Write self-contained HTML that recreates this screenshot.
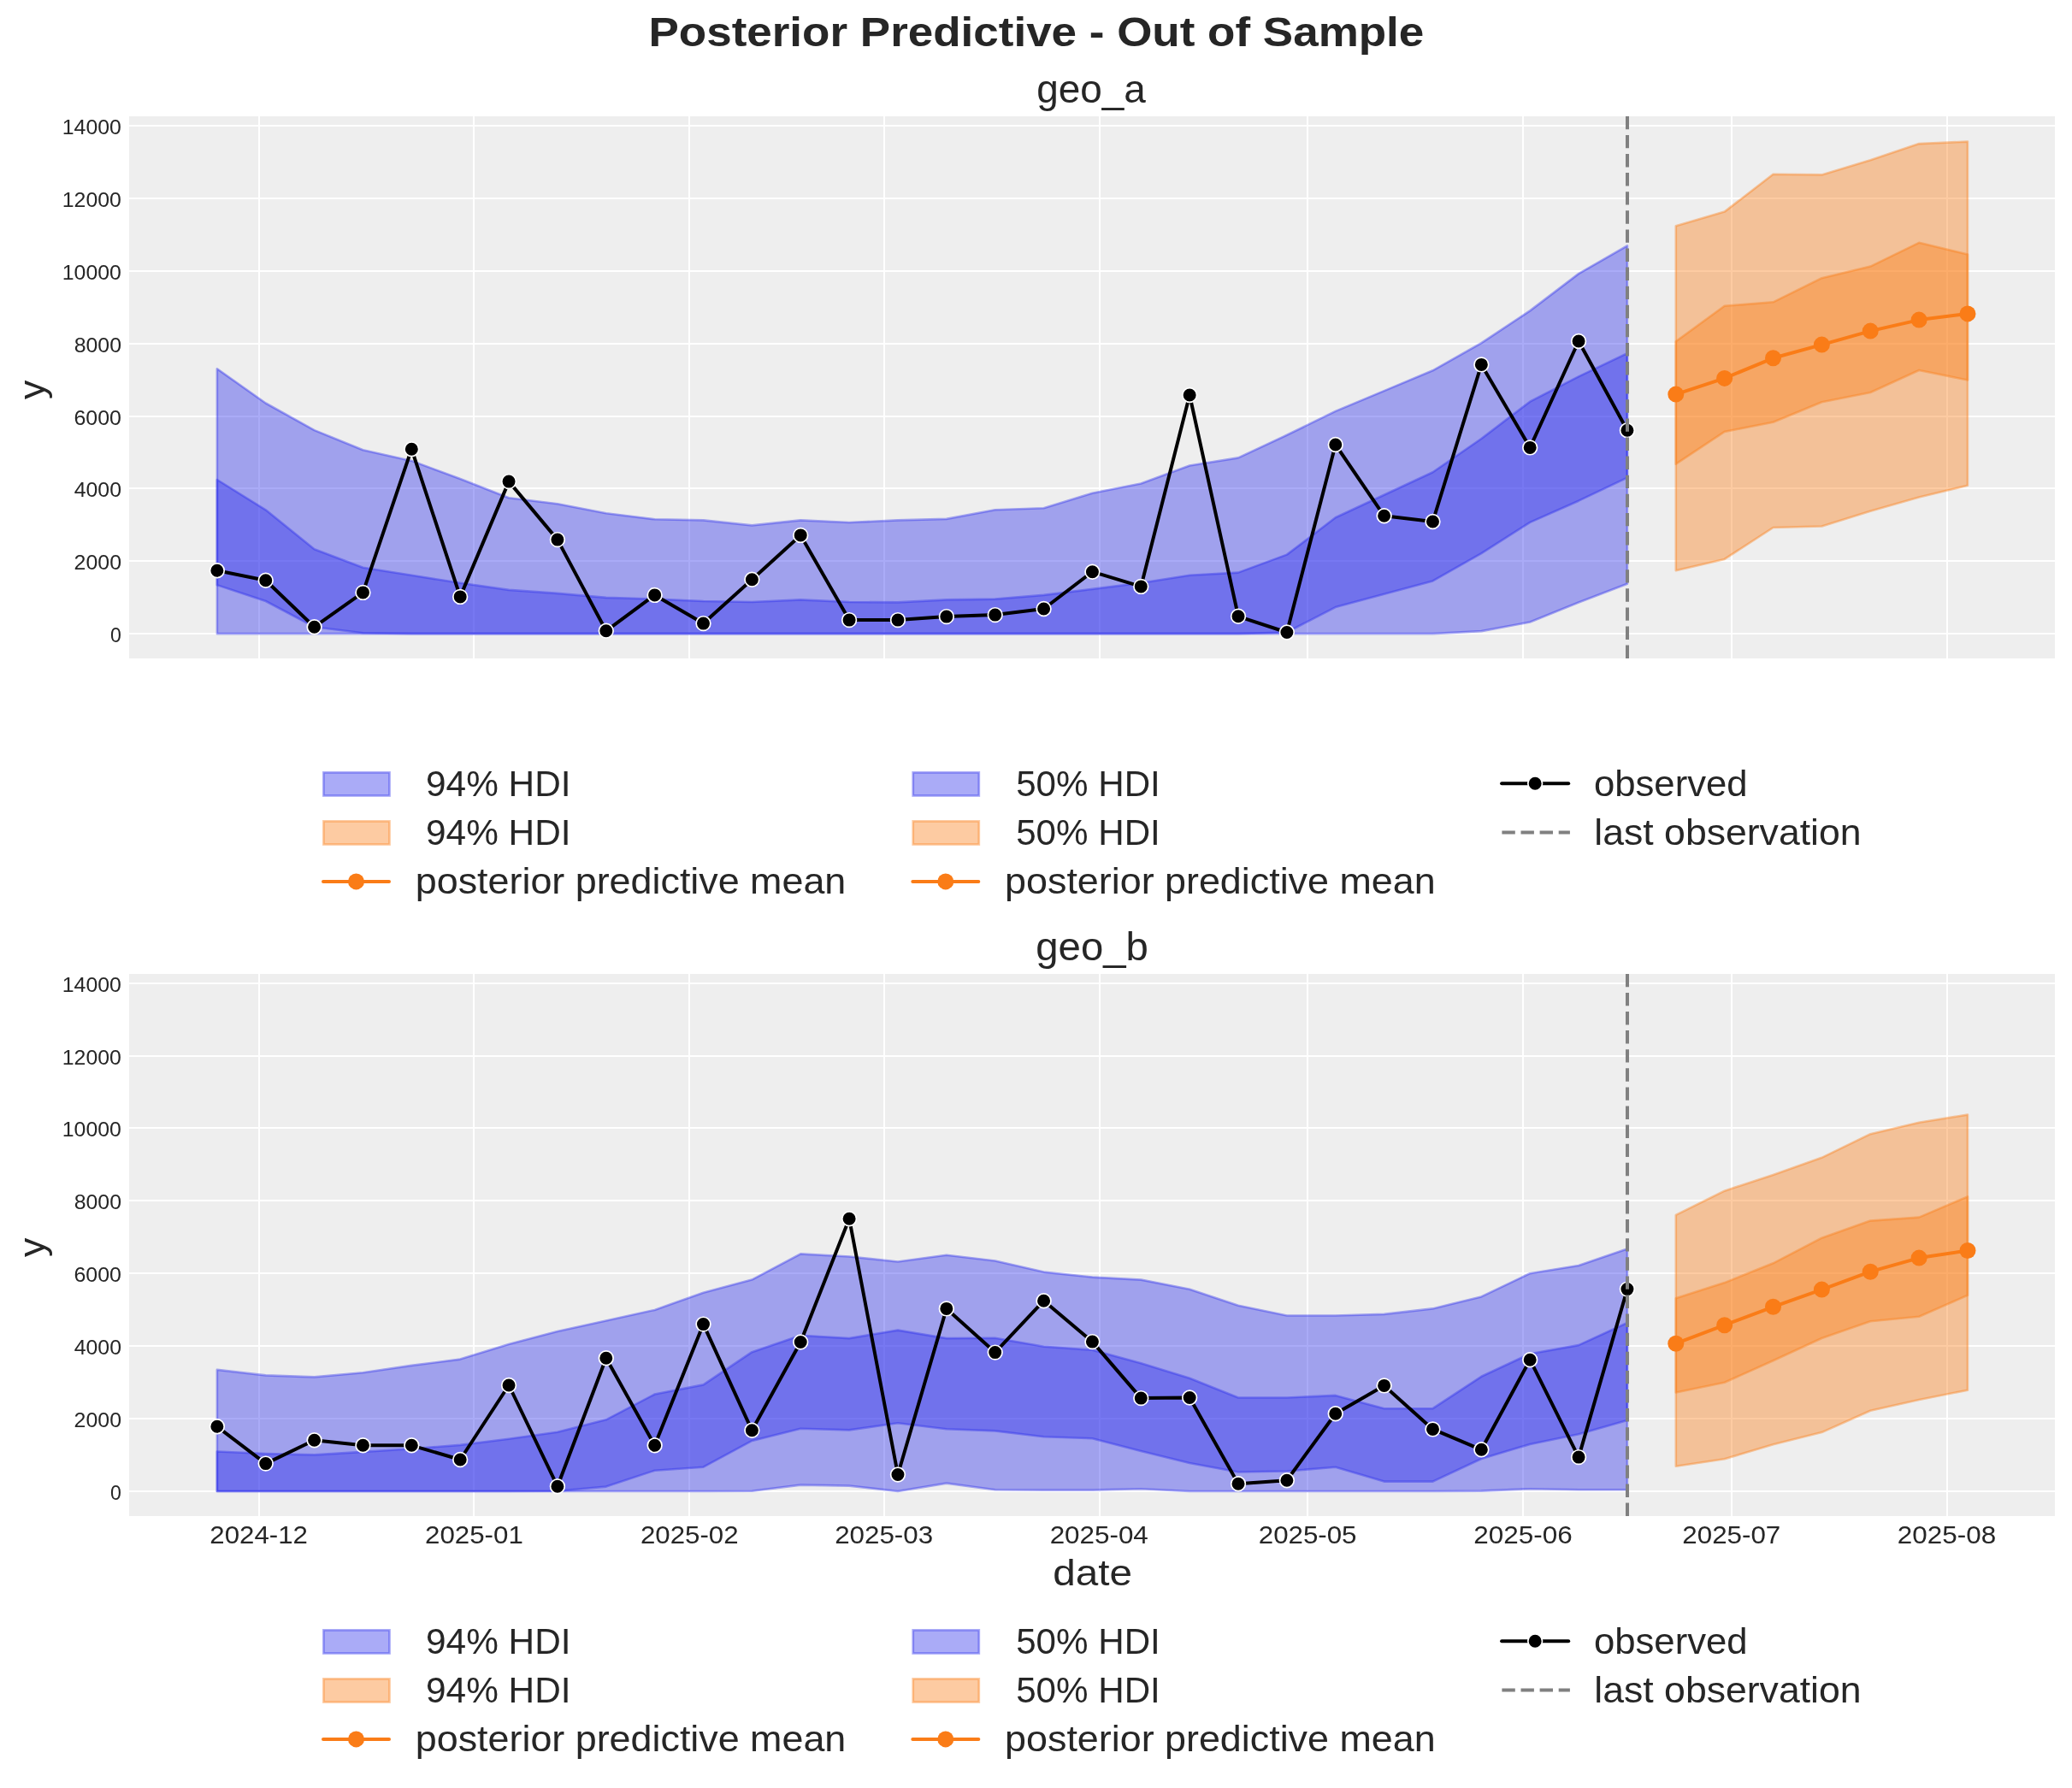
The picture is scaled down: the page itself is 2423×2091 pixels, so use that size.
<!DOCTYPE html>
<html><head><meta charset="utf-8"><style>html,body{margin:0;padding:0;background:#fff;}svg{display:block;font-family:"Liberation Sans",sans-serif;}svg{will-change:transform;}</style></head><body>
<svg width="2423" height="2091" viewBox="0 0 2423 2091" font-family="Liberation Sans, sans-serif">
<rect width="2423" height="2091" fill="#fff"/>
<text x="758.48" y="54.20" font-size="48.1" font-weight="bold" textLength="906.84" lengthAdjust="spacingAndGlyphs" fill="#262626" xml:space="preserve">Posterior Predictive - Out of Sample</text>
<rect x="151.0" y="136.0" width="2252.0" height="634.0" fill="#eeeeee"/>
<rect x="151.0" y="740" width="2252.0" height="2" fill="#fff"/>
<rect x="151.0" y="655" width="2252.0" height="2" fill="#fff"/>
<rect x="151.0" y="570" width="2252.0" height="2" fill="#fff"/>
<rect x="151.0" y="486" width="2252.0" height="2" fill="#fff"/>
<rect x="151.0" y="401" width="2252.0" height="2" fill="#fff"/>
<rect x="151.0" y="316" width="2252.0" height="2" fill="#fff"/>
<rect x="151.0" y="231" width="2252.0" height="2" fill="#fff"/>
<rect x="151.0" y="146" width="2252.0" height="2" fill="#fff"/>
<rect x="302" y="136.0" width="2" height="634.0" fill="#fff"/>
<rect x="553" y="136.0" width="2" height="634.0" fill="#fff"/>
<rect x="805" y="136.0" width="2" height="634.0" fill="#fff"/>
<rect x="1033" y="136.0" width="2" height="634.0" fill="#fff"/>
<rect x="1285" y="136.0" width="2" height="634.0" fill="#fff"/>
<rect x="1528" y="136.0" width="2" height="634.0" fill="#fff"/>
<rect x="1780" y="136.0" width="2" height="634.0" fill="#fff"/>
<rect x="2024" y="136.0" width="2" height="634.0" fill="#fff"/>
<rect x="2276" y="136.0" width="2" height="634.0" fill="#fff"/>
<polygon points="253.86,431.20 310.72,471.50 367.59,503.10 424.45,526.20 481.32,538.90 538.18,560.00 595.05,582.20 651.91,589.20 708.78,600.30 765.64,607.30 822.50,608.40 879.37,614.40 936.23,608.40 993.10,611.00 1049.96,608.40 1106.83,606.90 1163.69,596.30 1220.56,594.30 1277.42,576.70 1334.28,565.50 1391.15,544.50 1448.01,535.40 1504.88,508.80 1561.74,480.90 1618.61,457.10 1675.47,433.30 1732.34,401.20 1789.20,363.40 1846.07,320.10 1902.93,287.40 1902.93,682.70 1846.07,704.50 1789.20,727.50 1732.34,738.10 1675.47,741.10 1618.61,741.10 1561.74,741.10 1504.88,741.10 1448.01,741.10 1391.15,741.10 1334.28,741.10 1277.42,741.10 1220.56,741.10 1163.69,741.10 1106.83,741.10 1049.96,741.10 993.10,741.10 936.23,741.10 879.37,741.10 822.50,741.10 765.64,741.10 708.78,741.10 651.91,741.10 595.05,741.10 538.18,741.10 481.32,741.10 424.45,741.10 367.59,741.10 310.72,741.10 253.86,741.10" fill="#2a2eec" fill-opacity="0.4" stroke="#2a2eec" stroke-opacity="0.4" stroke-width="2.6" stroke-linejoin="round"/>
<polygon points="253.86,561.00 310.72,596.30 367.59,642.20 424.45,663.70 481.32,672.80 538.18,681.80 595.05,689.90 651.91,693.90 708.78,698.90 765.64,700.60 822.50,703.00 879.37,704.00 936.23,701.40 993.10,704.00 1049.96,704.40 1106.83,701.40 1163.69,700.60 1220.56,695.90 1277.42,688.90 1334.28,681.80 1391.15,672.80 1448.01,669.60 1504.88,648.60 1561.74,605.30 1618.61,578.70 1675.47,552.20 1732.34,513.00 1789.20,469.70 1846.07,440.30 1902.93,413.20 1902.93,558.60 1846.07,585.70 1789.20,610.90 1732.34,647.20 1675.47,679.40 1618.61,694.80 1561.74,710.10 1504.88,739.50 1448.01,741.10 1391.15,741.10 1334.28,741.10 1277.42,741.10 1220.56,741.10 1163.69,741.10 1106.83,741.10 1049.96,741.10 993.10,741.10 936.23,741.10 879.37,741.10 822.50,741.10 765.64,741.10 708.78,741.10 651.91,741.10 595.05,741.10 538.18,741.10 481.32,741.10 424.45,740.20 367.59,733.20 310.72,703.00 253.86,684.20" fill="#2a2eec" fill-opacity="0.4" stroke="#2a2eec" stroke-opacity="0.4" stroke-width="2.6" stroke-linejoin="round"/>
<polyline points="253.86,667.30 310.72,678.80 367.59,733.20 424.45,692.90 481.32,525.20 538.18,697.90 595.05,563.10 651.91,631.10 708.78,737.80 765.64,695.90 822.50,729.10 879.37,677.80 936.23,625.90 993.10,725.10 1049.96,725.10 1106.83,721.10 1163.69,719.10 1220.56,712.00 1277.42,668.70 1334.28,685.90 1391.15,462.00 1448.01,720.80 1504.88,739.50 1561.74,520.00 1618.61,603.30 1675.47,610.00 1732.34,426.40 1789.20,523.40 1846.07,399.00 1902.93,503.20" fill="none" stroke="#000" stroke-width="4" stroke-linejoin="round" stroke-linecap="round"/>
<circle cx="253.86" cy="667.30" r="8.35" fill="#000" stroke="#fff" stroke-width="1.7"/>
<circle cx="310.72" cy="678.80" r="8.35" fill="#000" stroke="#fff" stroke-width="1.7"/>
<circle cx="367.59" cy="733.20" r="8.35" fill="#000" stroke="#fff" stroke-width="1.7"/>
<circle cx="424.45" cy="692.90" r="8.35" fill="#000" stroke="#fff" stroke-width="1.7"/>
<circle cx="481.32" cy="525.20" r="8.35" fill="#000" stroke="#fff" stroke-width="1.7"/>
<circle cx="538.18" cy="697.90" r="8.35" fill="#000" stroke="#fff" stroke-width="1.7"/>
<circle cx="595.05" cy="563.10" r="8.35" fill="#000" stroke="#fff" stroke-width="1.7"/>
<circle cx="651.91" cy="631.10" r="8.35" fill="#000" stroke="#fff" stroke-width="1.7"/>
<circle cx="708.78" cy="737.80" r="8.35" fill="#000" stroke="#fff" stroke-width="1.7"/>
<circle cx="765.64" cy="695.90" r="8.35" fill="#000" stroke="#fff" stroke-width="1.7"/>
<circle cx="822.50" cy="729.10" r="8.35" fill="#000" stroke="#fff" stroke-width="1.7"/>
<circle cx="879.37" cy="677.80" r="8.35" fill="#000" stroke="#fff" stroke-width="1.7"/>
<circle cx="936.23" cy="625.90" r="8.35" fill="#000" stroke="#fff" stroke-width="1.7"/>
<circle cx="993.10" cy="725.10" r="8.35" fill="#000" stroke="#fff" stroke-width="1.7"/>
<circle cx="1049.96" cy="725.10" r="8.35" fill="#000" stroke="#fff" stroke-width="1.7"/>
<circle cx="1106.83" cy="721.10" r="8.35" fill="#000" stroke="#fff" stroke-width="1.7"/>
<circle cx="1163.69" cy="719.10" r="8.35" fill="#000" stroke="#fff" stroke-width="1.7"/>
<circle cx="1220.56" cy="712.00" r="8.35" fill="#000" stroke="#fff" stroke-width="1.7"/>
<circle cx="1277.42" cy="668.70" r="8.35" fill="#000" stroke="#fff" stroke-width="1.7"/>
<circle cx="1334.28" cy="685.90" r="8.35" fill="#000" stroke="#fff" stroke-width="1.7"/>
<circle cx="1391.15" cy="462.00" r="8.35" fill="#000" stroke="#fff" stroke-width="1.7"/>
<circle cx="1448.01" cy="720.80" r="8.35" fill="#000" stroke="#fff" stroke-width="1.7"/>
<circle cx="1504.88" cy="739.50" r="8.35" fill="#000" stroke="#fff" stroke-width="1.7"/>
<circle cx="1561.74" cy="520.00" r="8.35" fill="#000" stroke="#fff" stroke-width="1.7"/>
<circle cx="1618.61" cy="603.30" r="8.35" fill="#000" stroke="#fff" stroke-width="1.7"/>
<circle cx="1675.47" cy="610.00" r="8.35" fill="#000" stroke="#fff" stroke-width="1.7"/>
<circle cx="1732.34" cy="426.40" r="8.35" fill="#000" stroke="#fff" stroke-width="1.7"/>
<circle cx="1789.20" cy="523.40" r="8.35" fill="#000" stroke="#fff" stroke-width="1.7"/>
<circle cx="1846.07" cy="399.00" r="8.35" fill="#000" stroke="#fff" stroke-width="1.7"/>
<circle cx="1902.93" cy="503.20" r="8.35" fill="#000" stroke="#fff" stroke-width="1.7"/>
<polygon points="1959.79,264.20 2016.66,247.60 2073.52,203.80 2130.39,204.40 2187.25,187.20 2244.12,168.10 2300.98,165.60 2300.98,567.80 2244.12,581.40 2187.25,597.70 2130.39,615.50 2073.52,617.00 2016.66,653.90 1959.79,667.20" fill="#fa7c17" fill-opacity="0.4" stroke="#fa7c17" stroke-opacity="0.4" stroke-width="2.6" stroke-linejoin="round"/>
<polygon points="1959.79,399.20 2016.66,357.80 2073.52,353.30 2130.39,325.20 2187.25,311.60 2244.12,283.80 2300.98,297.40 2300.98,444.50 2244.12,433.00 2187.25,459.00 2130.39,470.20 2073.52,493.80 2016.66,504.90 1959.79,542.70" fill="#fa7c17" fill-opacity="0.4" stroke="#fa7c17" stroke-opacity="0.4" stroke-width="2.6" stroke-linejoin="round"/>
<polyline points="1959.79,461.10 2016.66,442.40 2073.52,418.80 2130.39,403.10 2187.25,387.10 2244.12,374.10 2300.98,366.90" fill="none" stroke="#fa7c17" stroke-width="4" stroke-linejoin="round" stroke-linecap="round"/>
<circle cx="1959.79" cy="461.10" r="9.5" fill="#fa7c17"/>
<circle cx="2016.66" cy="442.40" r="9.5" fill="#fa7c17"/>
<circle cx="2073.52" cy="418.80" r="9.5" fill="#fa7c17"/>
<circle cx="2130.39" cy="403.10" r="9.5" fill="#fa7c17"/>
<circle cx="2187.25" cy="387.10" r="9.5" fill="#fa7c17"/>
<circle cx="2244.12" cy="374.10" r="9.5" fill="#fa7c17"/>
<circle cx="2300.98" cy="366.90" r="9.5" fill="#fa7c17"/>
<line x1="1903.0" y1="770.0" x2="1903.0" y2="136.0" stroke="#808080" stroke-width="4" stroke-dasharray="15.4 6.7"/>
<text x="129.03" y="750.60" font-size="24" textLength="12.88" lengthAdjust="spacingAndGlyphs" fill="#262626" xml:space="preserve">0</text>
<text x="86.55" y="665.60" font-size="24" textLength="55.48" lengthAdjust="spacingAndGlyphs" fill="#262626" xml:space="preserve">2000</text>
<text x="86.68" y="580.60" font-size="24" textLength="55.35" lengthAdjust="spacingAndGlyphs" fill="#262626" xml:space="preserve">4000</text>
<text x="86.45" y="496.60" font-size="24" textLength="55.58" lengthAdjust="spacingAndGlyphs" fill="#262626" xml:space="preserve">6000</text>
<text x="86.66" y="411.60" font-size="24" textLength="55.37" lengthAdjust="spacingAndGlyphs" fill="#262626" xml:space="preserve">8000</text>
<text x="72.73" y="326.60" font-size="24" textLength="69.25" lengthAdjust="spacingAndGlyphs" fill="#262626" xml:space="preserve">10000</text>
<text x="72.73" y="241.60" font-size="24" textLength="69.25" lengthAdjust="spacingAndGlyphs" fill="#262626" xml:space="preserve">12000</text>
<text x="72.73" y="156.60" font-size="24" textLength="69.25" lengthAdjust="spacingAndGlyphs" fill="#262626" xml:space="preserve">14000</text>
<text x="1212.13" y="120.00" font-size="46.6" textLength="127.66" lengthAdjust="spacingAndGlyphs" fill="#262626" xml:space="preserve">geo_a</text>
<text transform="translate(51.8,466.90) rotate(-90)" x="0" y="0" font-size="42.7" textLength="22.36" lengthAdjust="spacingAndGlyphs" fill="#262626">y</text>
<rect x="378.40" y="903.40" width="77.1" height="27.1" fill="#2a2eec" fill-opacity="0.4" stroke="#2a2eec" stroke-opacity="0.4" stroke-width="2.7"/>
<text x="486.32" y="931.00" font-size="41.8" textLength="181.20" lengthAdjust="spacingAndGlyphs" fill="#262626" xml:space="preserve"> 94% HDI</text>
<rect x="1067.70" y="903.40" width="77.1" height="27.1" fill="#2a2eec" fill-opacity="0.4" stroke="#2a2eec" stroke-opacity="0.4" stroke-width="2.7"/>
<text x="1176.49" y="931.00" font-size="41.8" textLength="180.31" lengthAdjust="spacingAndGlyphs" fill="#262626" xml:space="preserve"> 50% HDI</text>
<line x1="1756.10" y1="916.2" x2="1834.20" y2="916.2" stroke="#000" stroke-width="4" stroke-linecap="round"/>
<circle cx="1795.15" cy="916.2" r="8.35" fill="#000" stroke="#fff" stroke-width="1.7"/>
<text x="1863.92" y="931.00" font-size="41.8" textLength="179.76" lengthAdjust="spacingAndGlyphs" fill="#262626" xml:space="preserve">observed</text>
<rect x="378.40" y="960.40" width="77.1" height="27.1" fill="#fa7c17" fill-opacity="0.4" stroke="#fa7c17" stroke-opacity="0.4" stroke-width="2.7"/>
<text x="486.32" y="988.00" font-size="41.8" textLength="181.20" lengthAdjust="spacingAndGlyphs" fill="#262626" xml:space="preserve"> 94% HDI</text>
<rect x="1067.70" y="960.40" width="77.1" height="27.1" fill="#fa7c17" fill-opacity="0.4" stroke="#fa7c17" stroke-opacity="0.4" stroke-width="2.7"/>
<text x="1176.49" y="988.00" font-size="41.8" textLength="180.31" lengthAdjust="spacingAndGlyphs" fill="#262626" xml:space="preserve"> 50% HDI</text>
<line x1="1756.40" y1="973.6" x2="1835.90" y2="973.6" stroke="#808080" stroke-width="4" stroke-dasharray="15.4 6.7"/>
<text x="1864.31" y="988.00" font-size="41.8" textLength="312.33" lengthAdjust="spacingAndGlyphs" fill="#262626" xml:space="preserve">last observation</text>
<line x1="378.00" y1="1030.9" x2="455.00" y2="1030.9" stroke="#fa7c17" stroke-width="4" stroke-linecap="round"/>
<circle cx="416.50" cy="1030.9" r="9.5" fill="#fa7c17"/>
<text x="485.80" y="1045.00" font-size="41.8" textLength="503.51" lengthAdjust="spacingAndGlyphs" fill="#262626" xml:space="preserve">posterior predictive mean</text>
<line x1="1067.30" y1="1030.9" x2="1144.30" y2="1030.9" stroke="#fa7c17" stroke-width="4" stroke-linecap="round"/>
<circle cx="1105.80" cy="1030.9" r="9.5" fill="#fa7c17"/>
<text x="1175.10" y="1045.00" font-size="41.8" textLength="503.51" lengthAdjust="spacingAndGlyphs" fill="#262626" xml:space="preserve">posterior predictive mean</text>
<rect x="151.0" y="1139.0" width="2252.0" height="634.0" fill="#eeeeee"/>
<rect x="151.0" y="1743" width="2252.0" height="2" fill="#fff"/>
<rect x="151.0" y="1658" width="2252.0" height="2" fill="#fff"/>
<rect x="151.0" y="1573" width="2252.0" height="2" fill="#fff"/>
<rect x="151.0" y="1488" width="2252.0" height="2" fill="#fff"/>
<rect x="151.0" y="1403" width="2252.0" height="2" fill="#fff"/>
<rect x="151.0" y="1318" width="2252.0" height="2" fill="#fff"/>
<rect x="151.0" y="1234" width="2252.0" height="2" fill="#fff"/>
<rect x="151.0" y="1149" width="2252.0" height="2" fill="#fff"/>
<rect x="302" y="1139.0" width="2" height="634.0" fill="#fff"/>
<rect x="553" y="1139.0" width="2" height="634.0" fill="#fff"/>
<rect x="805" y="1139.0" width="2" height="634.0" fill="#fff"/>
<rect x="1033" y="1139.0" width="2" height="634.0" fill="#fff"/>
<rect x="1285" y="1139.0" width="2" height="634.0" fill="#fff"/>
<rect x="1528" y="1139.0" width="2" height="634.0" fill="#fff"/>
<rect x="1780" y="1139.0" width="2" height="634.0" fill="#fff"/>
<rect x="2024" y="1139.0" width="2" height="634.0" fill="#fff"/>
<rect x="2276" y="1139.0" width="2" height="634.0" fill="#fff"/>
<polygon points="253.86,1601.90 310.72,1608.40 367.59,1610.40 424.45,1605.30 481.32,1596.90 538.18,1589.60 595.05,1572.10 651.91,1557.00 708.78,1544.50 765.64,1531.90 822.50,1511.70 879.37,1496.60 936.23,1466.40 993.10,1469.50 1049.96,1475.50 1106.83,1467.80 1163.69,1474.50 1220.56,1487.60 1277.42,1493.60 1334.28,1496.60 1391.15,1507.70 1448.01,1526.80 1504.88,1538.50 1561.74,1538.50 1618.61,1536.90 1675.47,1530.40 1732.34,1516.40 1789.20,1489.20 1846.07,1480.00 1902.93,1460.40 1902.93,1742.20 1846.07,1742.20 1789.20,1741.20 1732.34,1743.60 1675.47,1744.00 1618.61,1744.00 1561.74,1744.00 1504.88,1744.00 1448.01,1744.00 1391.15,1744.00 1334.28,1741.20 1277.42,1742.60 1220.56,1742.60 1163.69,1742.20 1106.83,1734.60 1049.96,1744.00 993.10,1737.60 936.23,1736.60 879.37,1743.80 822.50,1744.00 765.64,1744.00 708.78,1744.00 651.91,1744.00 595.05,1744.00 538.18,1744.00 481.32,1744.00 424.45,1744.00 367.59,1744.00 310.72,1744.00 253.86,1744.00" fill="#2a2eec" fill-opacity="0.4" stroke="#2a2eec" stroke-opacity="0.4" stroke-width="2.6" stroke-linejoin="round"/>
<polygon points="253.86,1697.50 310.72,1700.00 367.59,1701.40 424.45,1697.90 481.32,1694.30 538.18,1689.90 595.05,1682.80 651.91,1674.80 708.78,1660.30 765.64,1630.50 822.50,1619.40 879.37,1581.20 936.23,1561.70 993.10,1565.10 1049.96,1555.60 1106.83,1565.10 1163.69,1564.70 1220.56,1574.70 1277.42,1578.80 1334.28,1594.30 1391.15,1611.80 1448.01,1634.50 1504.88,1634.50 1561.74,1631.90 1618.61,1647.20 1675.47,1647.20 1732.34,1609.80 1789.20,1583.20 1846.07,1573.10 1902.93,1547.00 1902.93,1661.10 1846.07,1677.20 1789.20,1688.90 1732.34,1706.00 1675.47,1732.60 1618.61,1732.60 1561.74,1715.70 1504.88,1720.50 1448.01,1721.50 1391.15,1711.00 1334.28,1696.90 1277.42,1682.20 1220.56,1680.20 1163.69,1673.40 1106.83,1671.20 1049.96,1664.30 993.10,1672.40 936.23,1670.80 879.37,1684.90 822.50,1715.70 765.64,1719.70 708.78,1738.60 651.91,1743.80 595.05,1744.00 538.18,1744.00 481.32,1744.00 424.45,1744.00 367.59,1744.00 310.72,1744.00 253.86,1744.00" fill="#2a2eec" fill-opacity="0.4" stroke="#2a2eec" stroke-opacity="0.4" stroke-width="2.6" stroke-linejoin="round"/>
<polyline points="253.86,1668.30 310.72,1711.60 367.59,1684.20 424.45,1690.30 481.32,1690.30 538.18,1707.00 595.05,1620.00 651.91,1738.20 708.78,1588.20 765.64,1690.30 822.50,1548.60 879.37,1672.80 936.23,1569.50 993.10,1425.20 1049.96,1724.50 1106.83,1530.40 1163.69,1581.60 1220.56,1521.20 1277.42,1569.10 1334.28,1635.10 1391.15,1634.50 1448.01,1735.20 1504.88,1731.20 1561.74,1653.20 1618.61,1620.40 1675.47,1671.40 1732.34,1695.30 1789.20,1590.20 1846.07,1704.10 1902.93,1507.60" fill="none" stroke="#000" stroke-width="4" stroke-linejoin="round" stroke-linecap="round"/>
<circle cx="253.86" cy="1668.30" r="8.35" fill="#000" stroke="#fff" stroke-width="1.7"/>
<circle cx="310.72" cy="1711.60" r="8.35" fill="#000" stroke="#fff" stroke-width="1.7"/>
<circle cx="367.59" cy="1684.20" r="8.35" fill="#000" stroke="#fff" stroke-width="1.7"/>
<circle cx="424.45" cy="1690.30" r="8.35" fill="#000" stroke="#fff" stroke-width="1.7"/>
<circle cx="481.32" cy="1690.30" r="8.35" fill="#000" stroke="#fff" stroke-width="1.7"/>
<circle cx="538.18" cy="1707.00" r="8.35" fill="#000" stroke="#fff" stroke-width="1.7"/>
<circle cx="595.05" cy="1620.00" r="8.35" fill="#000" stroke="#fff" stroke-width="1.7"/>
<circle cx="651.91" cy="1738.20" r="8.35" fill="#000" stroke="#fff" stroke-width="1.7"/>
<circle cx="708.78" cy="1588.20" r="8.35" fill="#000" stroke="#fff" stroke-width="1.7"/>
<circle cx="765.64" cy="1690.30" r="8.35" fill="#000" stroke="#fff" stroke-width="1.7"/>
<circle cx="822.50" cy="1548.60" r="8.35" fill="#000" stroke="#fff" stroke-width="1.7"/>
<circle cx="879.37" cy="1672.80" r="8.35" fill="#000" stroke="#fff" stroke-width="1.7"/>
<circle cx="936.23" cy="1569.50" r="8.35" fill="#000" stroke="#fff" stroke-width="1.7"/>
<circle cx="993.10" cy="1425.20" r="8.35" fill="#000" stroke="#fff" stroke-width="1.7"/>
<circle cx="1049.96" cy="1724.50" r="8.35" fill="#000" stroke="#fff" stroke-width="1.7"/>
<circle cx="1106.83" cy="1530.40" r="8.35" fill="#000" stroke="#fff" stroke-width="1.7"/>
<circle cx="1163.69" cy="1581.60" r="8.35" fill="#000" stroke="#fff" stroke-width="1.7"/>
<circle cx="1220.56" cy="1521.20" r="8.35" fill="#000" stroke="#fff" stroke-width="1.7"/>
<circle cx="1277.42" cy="1569.10" r="8.35" fill="#000" stroke="#fff" stroke-width="1.7"/>
<circle cx="1334.28" cy="1635.10" r="8.35" fill="#000" stroke="#fff" stroke-width="1.7"/>
<circle cx="1391.15" cy="1634.50" r="8.35" fill="#000" stroke="#fff" stroke-width="1.7"/>
<circle cx="1448.01" cy="1735.20" r="8.35" fill="#000" stroke="#fff" stroke-width="1.7"/>
<circle cx="1504.88" cy="1731.20" r="8.35" fill="#000" stroke="#fff" stroke-width="1.7"/>
<circle cx="1561.74" cy="1653.20" r="8.35" fill="#000" stroke="#fff" stroke-width="1.7"/>
<circle cx="1618.61" cy="1620.40" r="8.35" fill="#000" stroke="#fff" stroke-width="1.7"/>
<circle cx="1675.47" cy="1671.40" r="8.35" fill="#000" stroke="#fff" stroke-width="1.7"/>
<circle cx="1732.34" cy="1695.30" r="8.35" fill="#000" stroke="#fff" stroke-width="1.7"/>
<circle cx="1789.20" cy="1590.20" r="8.35" fill="#000" stroke="#fff" stroke-width="1.7"/>
<circle cx="1846.07" cy="1704.10" r="8.35" fill="#000" stroke="#fff" stroke-width="1.7"/>
<circle cx="1902.93" cy="1507.60" r="8.35" fill="#000" stroke="#fff" stroke-width="1.7"/>
<polygon points="1959.79,1420.90 2016.66,1392.70 2073.52,1373.90 2130.39,1353.80 2187.25,1326.20 2244.12,1312.70 2300.98,1303.60 2300.98,1625.70 2244.12,1637.00 2187.25,1649.80 2130.39,1675.10 2073.52,1689.30 2016.66,1706.20 1959.79,1714.80" fill="#fa7c17" fill-opacity="0.4" stroke="#fa7c17" stroke-opacity="0.4" stroke-width="2.6" stroke-linejoin="round"/>
<polygon points="1959.79,1518.30 2016.66,1500.10 2073.52,1477.30 2130.39,1447.70 2187.25,1427.60 2244.12,1423.60 2300.98,1399.40 2300.98,1514.80 2244.12,1539.80 2187.25,1545.20 2130.39,1565.00 2073.52,1591.30 2016.66,1616.80 1959.79,1628.40" fill="#fa7c17" fill-opacity="0.4" stroke="#fa7c17" stroke-opacity="0.4" stroke-width="2.6" stroke-linejoin="round"/>
<polyline points="1959.79,1571.20 2016.66,1549.70 2073.52,1528.30 2130.39,1508.10 2187.25,1487.20 2244.12,1471.10 2300.98,1462.50" fill="none" stroke="#fa7c17" stroke-width="4" stroke-linejoin="round" stroke-linecap="round"/>
<circle cx="1959.79" cy="1571.20" r="9.5" fill="#fa7c17"/>
<circle cx="2016.66" cy="1549.70" r="9.5" fill="#fa7c17"/>
<circle cx="2073.52" cy="1528.30" r="9.5" fill="#fa7c17"/>
<circle cx="2130.39" cy="1508.10" r="9.5" fill="#fa7c17"/>
<circle cx="2187.25" cy="1487.20" r="9.5" fill="#fa7c17"/>
<circle cx="2244.12" cy="1471.10" r="9.5" fill="#fa7c17"/>
<circle cx="2300.98" cy="1462.50" r="9.5" fill="#fa7c17"/>
<line x1="1903.0" y1="1773.0" x2="1903.0" y2="1139.0" stroke="#808080" stroke-width="4" stroke-dasharray="15.4 6.7"/>
<text x="129.03" y="1753.60" font-size="24" textLength="12.88" lengthAdjust="spacingAndGlyphs" fill="#262626" xml:space="preserve">0</text>
<text x="86.55" y="1668.60" font-size="24" textLength="55.48" lengthAdjust="spacingAndGlyphs" fill="#262626" xml:space="preserve">2000</text>
<text x="86.68" y="1583.60" font-size="24" textLength="55.35" lengthAdjust="spacingAndGlyphs" fill="#262626" xml:space="preserve">4000</text>
<text x="86.45" y="1498.60" font-size="24" textLength="55.58" lengthAdjust="spacingAndGlyphs" fill="#262626" xml:space="preserve">6000</text>
<text x="86.66" y="1413.60" font-size="24" textLength="55.37" lengthAdjust="spacingAndGlyphs" fill="#262626" xml:space="preserve">8000</text>
<text x="72.73" y="1328.60" font-size="24" textLength="69.25" lengthAdjust="spacingAndGlyphs" fill="#262626" xml:space="preserve">10000</text>
<text x="72.73" y="1244.60" font-size="24" textLength="69.25" lengthAdjust="spacingAndGlyphs" fill="#262626" xml:space="preserve">12000</text>
<text x="72.73" y="1159.60" font-size="24" textLength="69.25" lengthAdjust="spacingAndGlyphs" fill="#262626" xml:space="preserve">14000</text>
<text x="1211.27" y="1122.90" font-size="46.6" textLength="131.54" lengthAdjust="spacingAndGlyphs" fill="#262626" xml:space="preserve">geo_b</text>
<text transform="translate(51.8,1469.90) rotate(-90)" x="0" y="0" font-size="42.7" textLength="22.36" lengthAdjust="spacingAndGlyphs" fill="#262626">y</text>
<rect x="378.40" y="1906.40" width="77.1" height="27.1" fill="#2a2eec" fill-opacity="0.4" stroke="#2a2eec" stroke-opacity="0.4" stroke-width="2.7"/>
<text x="486.32" y="1934.00" font-size="41.8" textLength="181.20" lengthAdjust="spacingAndGlyphs" fill="#262626" xml:space="preserve"> 94% HDI</text>
<rect x="1067.70" y="1906.40" width="77.1" height="27.1" fill="#2a2eec" fill-opacity="0.4" stroke="#2a2eec" stroke-opacity="0.4" stroke-width="2.7"/>
<text x="1176.49" y="1934.00" font-size="41.8" textLength="180.31" lengthAdjust="spacingAndGlyphs" fill="#262626" xml:space="preserve"> 50% HDI</text>
<line x1="1756.10" y1="1919.2" x2="1834.20" y2="1919.2" stroke="#000" stroke-width="4" stroke-linecap="round"/>
<circle cx="1795.15" cy="1919.2" r="8.35" fill="#000" stroke="#fff" stroke-width="1.7"/>
<text x="1863.92" y="1934.00" font-size="41.8" textLength="179.76" lengthAdjust="spacingAndGlyphs" fill="#262626" xml:space="preserve">observed</text>
<rect x="378.40" y="1963.40" width="77.1" height="27.1" fill="#fa7c17" fill-opacity="0.4" stroke="#fa7c17" stroke-opacity="0.4" stroke-width="2.7"/>
<text x="486.32" y="1991.00" font-size="41.8" textLength="181.20" lengthAdjust="spacingAndGlyphs" fill="#262626" xml:space="preserve"> 94% HDI</text>
<rect x="1067.70" y="1963.40" width="77.1" height="27.1" fill="#fa7c17" fill-opacity="0.4" stroke="#fa7c17" stroke-opacity="0.4" stroke-width="2.7"/>
<text x="1176.49" y="1991.00" font-size="41.8" textLength="180.31" lengthAdjust="spacingAndGlyphs" fill="#262626" xml:space="preserve"> 50% HDI</text>
<line x1="1756.40" y1="1976.6" x2="1835.90" y2="1976.6" stroke="#808080" stroke-width="4" stroke-dasharray="15.4 6.7"/>
<text x="1864.31" y="1991.00" font-size="41.8" textLength="312.33" lengthAdjust="spacingAndGlyphs" fill="#262626" xml:space="preserve">last observation</text>
<line x1="378.00" y1="2033.9" x2="455.00" y2="2033.9" stroke="#fa7c17" stroke-width="4" stroke-linecap="round"/>
<circle cx="416.50" cy="2033.9" r="9.5" fill="#fa7c17"/>
<text x="485.80" y="2048.00" font-size="41.8" textLength="503.51" lengthAdjust="spacingAndGlyphs" fill="#262626" xml:space="preserve">posterior predictive mean</text>
<line x1="1067.30" y1="2033.9" x2="1144.30" y2="2033.9" stroke="#fa7c17" stroke-width="4" stroke-linecap="round"/>
<circle cx="1105.80" cy="2033.9" r="9.5" fill="#fa7c17"/>
<text x="1175.10" y="2048.00" font-size="41.8" textLength="503.51" lengthAdjust="spacingAndGlyphs" fill="#262626" xml:space="preserve">posterior predictive mean</text>
<text x="245.34" y="1804.60" font-size="30" textLength="114.52" lengthAdjust="spacingAndGlyphs" fill="#262626" xml:space="preserve">2024-12</text>
<text x="497.07" y="1804.60" font-size="30" textLength="114.72" lengthAdjust="spacingAndGlyphs" fill="#262626" xml:space="preserve">2025-01</text>
<text x="749.00" y="1804.60" font-size="30" textLength="114.52" lengthAdjust="spacingAndGlyphs" fill="#262626" xml:space="preserve">2025-02</text>
<text x="976.15" y="1804.60" font-size="30" textLength="114.92" lengthAdjust="spacingAndGlyphs" fill="#262626" xml:space="preserve">2025-03</text>
<text x="1227.68" y="1804.60" font-size="30" textLength="115.11" lengthAdjust="spacingAndGlyphs" fill="#262626" xml:space="preserve">2025-04</text>
<text x="1471.79" y="1804.60" font-size="30" textLength="114.71" lengthAdjust="spacingAndGlyphs" fill="#262626" xml:space="preserve">2025-05</text>
<text x="1723.31" y="1804.60" font-size="30" textLength="115.33" lengthAdjust="spacingAndGlyphs" fill="#262626" xml:space="preserve">2025-06</text>
<text x="1967.32" y="1804.60" font-size="30" textLength="114.93" lengthAdjust="spacingAndGlyphs" fill="#262626" xml:space="preserve">2025-07</text>
<text x="2218.89" y="1804.60" font-size="30" textLength="115.23" lengthAdjust="spacingAndGlyphs" fill="#262626" xml:space="preserve">2025-08</text>
<text x="1231.19" y="1853.90" font-size="42.7" textLength="92.73" lengthAdjust="spacingAndGlyphs" fill="#262626" xml:space="preserve">date</text>
</svg>
</body></html>
